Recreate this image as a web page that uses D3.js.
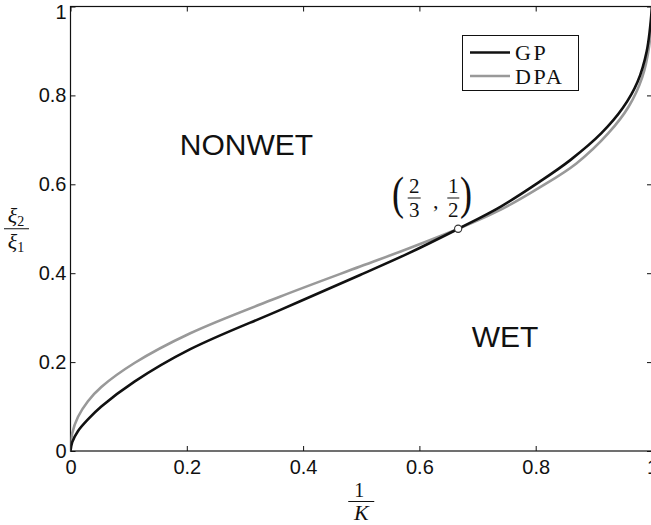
<!DOCTYPE html>
<html>
<head>
<meta charset="utf-8">
<script src="https://cdn.jsdelivr.net/npm/d3@7"></script>
<style>
  html, body { margin: 0; padding: 0; background: #fff; }
  svg { display: block; }
</style>
</head>
<body>
<svg id="chart" width="651" height="525"></svg>
<script>
// ---- data ----
const xTicks = [0, 0.2, 0.4, 0.6, 0.8, 1];
const yTicks = [0, 0.2, 0.4, 0.6, 0.8, 1];
const xTickLabels = ["0", "0.2", "0.4", "0.6", "0.8", "1"];
const yTickLabels = ["0", "0.2", "0.4", "0.6", "0.8", "1"];

// GP curve: x = 1/K, y = xi2/xi1
const gpX = [0, 0.003, 0.013, 0.030, 0.053, 0.110, 0.206, 0.360, 0.498, 0.580, 0.667, 0.740, 0.807, 0.860, 0.913, 0.950, 0.975, 0.991, 1.0];
const gpY = [0, 0.020, 0.045, 0.071, 0.100, 0.156, 0.229, 0.317, 0.396, 0.444, 0.500, 0.550, 0.606, 0.655, 0.715, 0.772, 0.830, 0.900, 1.0];
// DPA curve
const dpaX = [0, 0.003, 0.013, 0.030, 0.053, 0.110, 0.206, 0.360, 0.498, 0.580, 0.667, 0.740, 0.807, 0.870, 0.925, 0.960, 0.983, 0.995, 1.0];
const dpaY = [0, 0.040, 0.077, 0.112, 0.144, 0.198, 0.265, 0.347, 0.415, 0.455, 0.500, 0.543, 0.593, 0.647, 0.715, 0.775, 0.840, 0.910, 1.0];

const seriesNames = ["GP", "DPA"];
const seriesColors = ["#111111", "#999999"];
const markPoint = [2/3, 1/2];
const regionLabels = [{text: "NONWET", x: 0.188, y: 0.665}, {text: "WET", x: 0.69, y: 0.235}];

// ---- layout ----
const svg = d3.select("#chart");
const mLeft = 70.5, mTop = 6.5, plotW = 581.5, plotH = 444.5;
const x = d3.scaleLinear().domain([0, 1]).range([mLeft, mLeft + plotW]);
const y = d3.scaleLinear().domain([0, 1]).range([mTop + plotH, mTop]);

const axisFont = '"Liberation Sans", Arial, Helvetica, sans-serif';
const serif = '"Liberation Serif", "Times New Roman", serif';

// Box
svg.append("rect").attr("x", mLeft).attr("y", mTop).attr("width", plotW).attr("height", plotH)
  .attr("fill", "none").attr("stroke", "#111").attr("stroke-width", 1.2);

// Axes with inward ticks
const tl = 5;
const xAxisB = d3.axisBottom(x).tickValues(xTicks).tickFormat((d, i) => xTickLabels[i]).tickSizeInner(-tl).tickSizeOuter(0).tickPadding(9);
const yAxisL = d3.axisLeft(y).tickValues(yTicks).tickFormat((d, i) => yTickLabels[i]).tickSizeInner(-tl).tickSizeOuter(0).tickPadding(4);
const xAxisT = d3.axisTop(x).tickValues(xTicks).tickFormat("").tickSizeInner(-tl).tickSizeOuter(0);
const yAxisR = d3.axisRight(y).tickValues(yTicks).tickFormat("").tickSizeInner(-tl).tickSizeOuter(0);

function styleAxis(g) {
  g.select(".domain").remove();
  g.selectAll(".tick line").attr("stroke", "#111").attr("stroke-width", 1);
  g.selectAll(".tick text").attr("fill", "#111").style("font-size", "20px").style("font-family", axisFont);
}
svg.append("g").attr("transform", `translate(0,${mTop + plotH})`).call(xAxisB).call(styleAxis);
const gy = svg.append("g").attr("transform", `translate(${mLeft},0)`).call(yAxisL).call(styleAxis);
// keep the top label "1" inside the picture, as in the reference
gy.selectAll(".tick text").filter(d => d === 1).attr("dy", "0.62em");
svg.append("g").attr("transform", `translate(0,${mTop})`).call(xAxisT).call(styleAxis);
svg.append("g").attr("transform", `translate(${mLeft + plotW},0)`).call(yAxisR).call(styleAxis);

// Curves
const line = d3.line().x(d => x(d[0])).y(d => y(d[1])).curve(d3.curveCatmullRom.alpha(0.5));
const gpData = gpX.map((v, i) => [v, gpY[i]]);
const dpaData = dpaX.map((v, i) => [v, dpaY[i]]);
svg.append("clipPath").attr("id", "clip").append("rect")
  .attr("x", mLeft).attr("y", mTop).attr("width", plotW).attr("height", plotH);
const plot = svg.append("g").attr("clip-path", "url(#clip)");
plot.append("path").datum(dpaData).attr("d", line).attr("fill", "none")
  .attr("stroke", seriesColors[1]).attr("stroke-width", 2.6);
plot.append("path").datum(gpData).attr("d", line).attr("fill", "none")
  .attr("stroke", seriesColors[0]).attr("stroke-width", 2.6);

// marker
svg.append("circle").attr("cx", x(markPoint[0])).attr("cy", y(markPoint[1])).attr("r", 3.6)
  .attr("fill", "#fff").attr("stroke", "#333").attr("stroke-width", 1.1);

// region labels
regionLabels.forEach(r => {
  svg.append("text").attr("x", x(r.x)).attr("y", y(r.y)).text(r.text)
    .style("font-family", axisFont).style("font-size", "30px").attr("fill", "#111");
});

// annotation (2/3, 1/2)
const ann = svg.append("g").attr("fill", "#111").style("font-family", serif);
ann.append("text").attr("transform", "translate(392,209) scale(1,1.3)").text("(").style("font-size", "36px");
ann.append("text").attr("x", 414.3).attr("y", 193).attr("text-anchor", "middle").text("2").style("font-size", "21px");
ann.append("line").attr("x1", 407.7).attr("x2", 420.7).attr("y1", 198).attr("y2", 198).attr("stroke", "#111").attr("stroke-width", 1);
ann.append("text").attr("x", 414.3).attr("y", 217).attr("text-anchor", "middle").text("3").style("font-size", "21px");
ann.append("text").attr("x", 433).attr("y", 208).text(",").style("font-size", "22px");
ann.append("text").attr("x", 453.3).attr("y", 193).attr("text-anchor", "middle").text("1").style("font-size", "21px");
ann.append("line").attr("x1", 447.3).attr("x2", 459.3).attr("y1", 198).attr("y2", 198).attr("stroke", "#111").attr("stroke-width", 1);
ann.append("text").attr("x", 453.3).attr("y", 217).attr("text-anchor", "middle").text("2").style("font-size", "21px");
ann.append("text").attr("transform", "translate(460,209) scale(1,1.3)").text(")").style("font-size", "36px");

// legend
const lg = svg.append("g");
lg.append("rect").attr("x", 462.5).attr("y", 35.5).attr("width", 116).attr("height", 55)
  .attr("fill", "#fff").attr("stroke", "#111").attr("stroke-width", 1);
seriesNames.forEach((name, i) => {
  const yy = 52.5 + i * 23.5;
  lg.append("line").attr("x1", 470).attr("x2", 510).attr("y1", yy).attr("y2", yy)
    .attr("stroke", seriesColors[i]).attr("stroke-width", 2.6);
  lg.append("text").attr("x", 515).attr("y", yy + 7.5).text(name)
    .style("font-family", serif).style("font-size", "22px").style("letter-spacing", "2.5px").attr("fill", "#111");
});

// axis labels: 1/K and xi2/xi1
const xl = svg.append("g").attr("fill", "#111").style("font-family", serif);
const xc = x(0.5);
xl.append("text").attr("x", xc - 2).attr("y", 497).attr("text-anchor", "middle").text("1").style("font-size", "20px");
xl.append("line").attr("x1", xc - 13).attr("x2", xc + 13).attr("y1", 501.5).attr("y2", 501.5).attr("stroke", "#111").attr("stroke-width", 1);
xl.append("text").attr("x", xc).attr("y", 520).attr("text-anchor", "middle").text("K").style("font-size", "22px").style("font-style", "italic");

const yc = y(0.5);
const yl = svg.append("g").attr("fill", "#111").style("font-family", serif);
const t1 = yl.append("text").attr("x", 16).attr("y", yc - 6).attr("text-anchor", "middle").style("font-size", "22px");
t1.append("tspan").text("ξ").style("font-style", "italic");
t1.append("tspan").text("2").style("font-size", "14px").attr("dy", 3);
yl.append("line").attr("x1", 4).attr("x2", 29).attr("y1", yc).attr("y2", yc).attr("stroke", "#111").attr("stroke-width", 1);
const t2 = yl.append("text").attr("x", 16).attr("y", yc + 20).attr("text-anchor", "middle").style("font-size", "22px");
t2.append("tspan").text("ξ").style("font-style", "italic");
t2.append("tspan").text("1").style("font-size", "14px").attr("dy", 3);
</script>
</body>
</html>
